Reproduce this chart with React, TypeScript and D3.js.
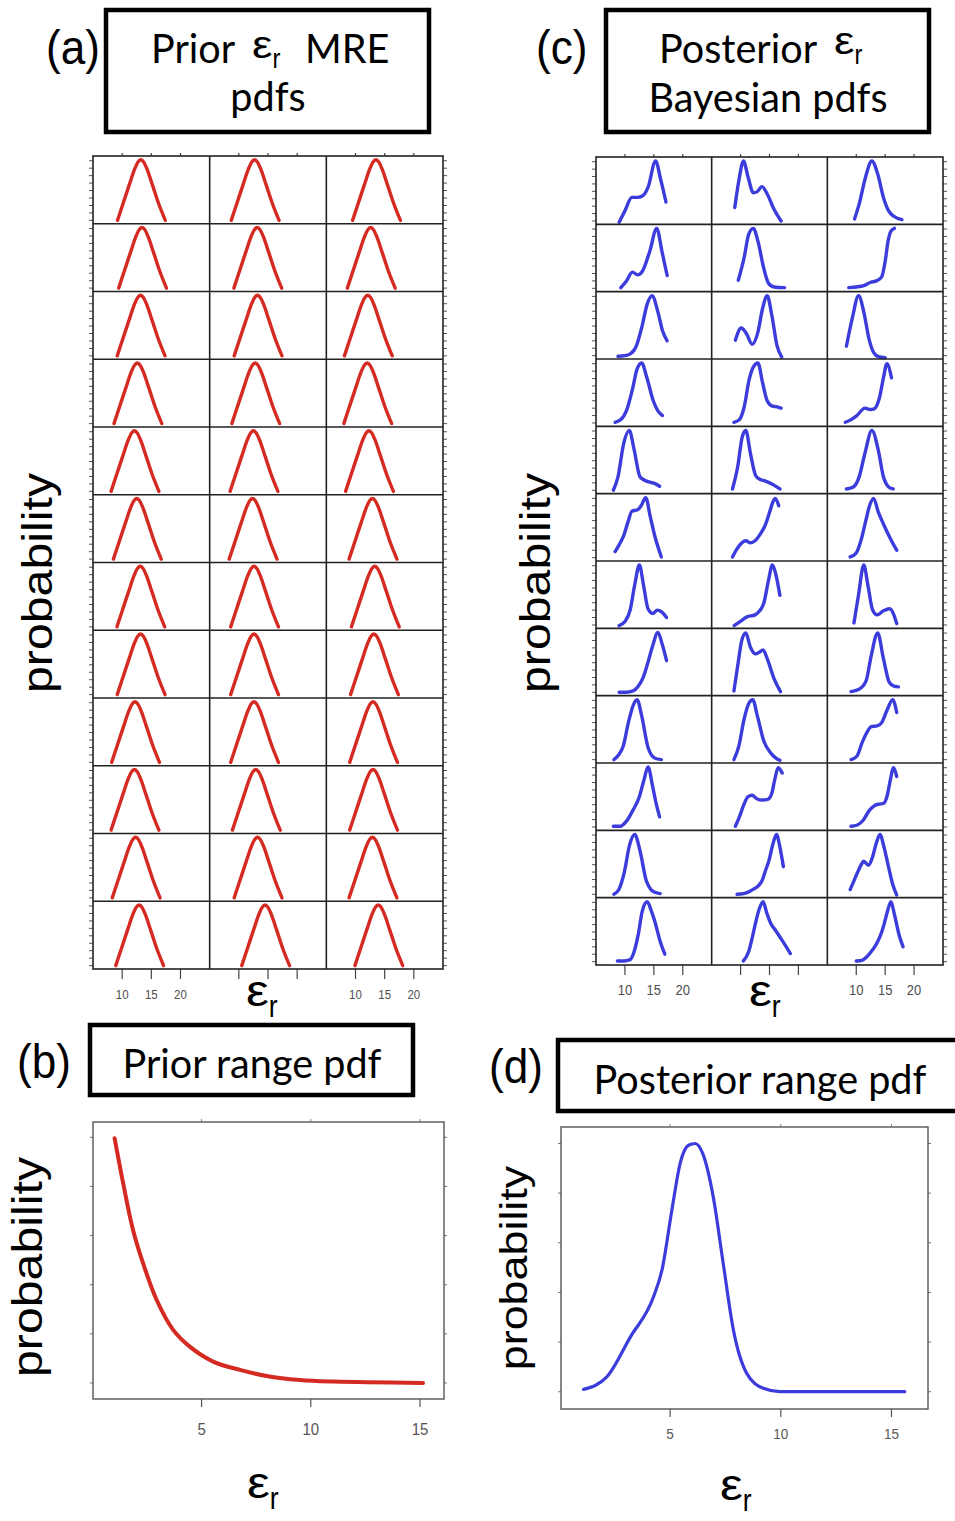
import React from 'react';
import * as d3 from 'd3';

type Pt = [number, number];

// shared x axis of the small pdf panels
const gridDomain = [5, 25];
const gridTicks = [10, 15, 20];
const rowTickFracs = [0.05, 0.16, 0.27, 0.38, 0.49, 0.6, 0.71, 0.82, 0.93];

// prior MRE pdfs: one shape (offset from the peak, height in the row) and a peak per cell
const priorShapeDx = [-4.0, -3.0, -2.0, -1.0, -0.5, 0, 0.5, 1.0, 2.0, 3.0, 4.2];
const priorShapeY = [0.05, 0.31, 0.57, 0.82, 0.91, 0.945, 0.91, 0.82, 0.57, 0.31, 0.05];
const priorPeaks = [
  [13.2, 12.7, 13.5],
  [13.4, 13.15, 12.6],
  [13.15, 13.2, 12.1],
  [12.6, 12.8, 12.0],
  [12.1, 12.5, 12.3],
  [12.5, 12.35, 12.9],
  [13.1, 12.6, 13.3],
  [13.15, 12.6, 13.15],
  [12.2, 12.6, 13.0],
  [12.1, 12.9, 13.0],
  [12.3, 13.2, 12.9],
  [12.9, 14.5, 13.9],
];

// posterior Bayesian pdfs, [eps_r, height in the row]
const posteriorCurves: Pt[][][] = [
  [
    [[9.0, 0.03], [10, 0.2], [11.2, 0.4], [12.2, 0.4], [13, 0.42], [14, 0.55], [15.3, 0.94], [16.2, 0.66], [17.1, 0.33]],
    [[9.0, 0.25], [9.7, 0.65], [10.5, 0.94], [11.3, 0.7], [12.2, 0.47], [12.8, 0.48], [13.7, 0.56], [14.6, 0.45], [15.8, 0.22], [17.0, 0.05]],
    [[9.7, 0.08], [10.5, 0.3], [11.6, 0.7], [12.7, 0.94], [13.7, 0.75], [14.7, 0.4], [15.6, 0.2], [16.5, 0.12], [17.9, 0.07]],
  ],
  [
    [[9.3, 0.06], [10.2, 0.15], [11.3, 0.29], [12.2, 0.25], [13.0, 0.3], [14.3, 0.6], [15.5, 0.94], [16.4, 0.6], [17.3, 0.24]],
    [[9.6, 0.17], [10.6, 0.5], [11.4, 0.85], [12.2, 0.94], [13.0, 0.75], [14.0, 0.35], [14.8, 0.13], [15.8, 0.07], [17.6, 0.06]],
    [[8.7, 0.06], [10, 0.07], [11.3, 0.09], [12.5, 0.14], [13.5, 0.16], [14.4, 0.22], [15.0, 0.45], [15.5, 0.75], [16.0, 0.9], [16.6, 0.94]],
  ],
  [
    [[8.8, 0.04], [10.0, 0.05], [11.0, 0.08], [12.0, 0.2], [13.0, 0.5], [13.8, 0.8], [14.7, 0.94], [15.7, 0.7], [16.5, 0.42], [17.3, 0.27]],
    [[9.1, 0.28], [10.1, 0.46], [11.0, 0.38], [12.0, 0.22], [13.0, 0.4], [13.8, 0.75], [14.6, 0.94], [15.4, 0.65], [16.3, 0.2], [17.1, 0.03]],
    [[8.3, 0.19], [9.3, 0.6], [10.4, 0.94], [11.3, 0.7], [12.2, 0.3], [13.0, 0.1], [14.0, 0.03], [15.0, 0.02]],
  ],
  [
    [[8.3, 0.06], [9.3, 0.1], [10.3, 0.24], [11.3, 0.55], [12.1, 0.85], [12.9, 0.94], [13.8, 0.72], [14.9, 0.38], [15.7, 0.23], [16.5, 0.16]],
    [[8.85, 0.06], [9.8, 0.1], [10.6, 0.28], [11.5, 0.7], [12.2, 0.88], [13.0, 0.94], [13.8, 0.65], [14.6, 0.38], [15.5, 0.3], [16.3, 0.29], [17.0, 0.27]],
    [[8.1, 0.06], [9.1, 0.1], [10.1, 0.16], [11.5, 0.27], [12.4, 0.25], [13.1, 0.26], [14.0, 0.42], [14.7, 0.72], [15.3, 0.93], [16.1, 0.72]],
  ],
  [
    [[8.0, 0.05], [8.8, 0.25], [9.8, 0.75], [10.75, 0.94], [11.6, 0.65], [12.6, 0.25], [13.4, 0.2], [14.3, 0.17], [15.2, 0.15], [16.0, 0.11]],
    [[8.6, 0.07], [9.5, 0.4], [10.3, 0.85], [10.9, 0.94], [11.7, 0.6], [12.6, 0.27], [13.4, 0.21], [14.2, 0.19], [15.5, 0.14], [16.8, 0.07]],
    [[8.3, 0.07], [9.5, 0.1], [10.5, 0.25], [11.5, 0.6], [12.7, 0.94], [13.8, 0.65], [14.7, 0.25], [15.6, 0.1], [16.4, 0.07]],
  ],
  [
    [[8.3, 0.14], [9.0, 0.24], [9.8, 0.38], [10.6, 0.6], [11.2, 0.74], [12.2, 0.76], [12.8, 0.82], [13.6, 0.94], [14.4, 0.65], [15.2, 0.36], [16.3, 0.06]],
    [[8.6, 0.06], [9.3, 0.17], [10.1, 0.26], [10.9, 0.3], [11.7, 0.27], [12.5, 0.3], [13.4, 0.4], [14.2, 0.52], [15.0, 0.72], [15.6, 0.88], [16.0, 0.93], [16.6, 0.82]],
    [[8.95, 0.06], [10.0, 0.12], [10.8, 0.3], [11.6, 0.58], [12.3, 0.82], [13.0, 0.93], [13.8, 0.73], [14.7, 0.55], [15.8, 0.35], [17.0, 0.16]],
  ],
  [
    [[9.0, 0.04], [10.0, 0.1], [10.9, 0.27], [11.7, 0.65], [12.5, 0.94], [13.2, 0.65], [14.0, 0.29], [14.8, 0.22], [15.6, 0.27], [16.4, 0.24], [17.2, 0.16]],
    [[8.9, 0.04], [9.9, 0.1], [11.1, 0.17], [12.5, 0.2], [13.3, 0.26], [14.0, 0.37], [14.8, 0.7], [15.5, 0.94], [16.1, 0.8], [16.8, 0.49]],
    [[9.6, 0.08], [10.4, 0.5], [11.3, 0.94], [12.0, 0.65], [12.8, 0.28], [13.6, 0.2], [14.7, 0.26], [15.8, 0.29], [16.5, 0.2], [17.0, 0.07]],
  ],
  [
    [[9.0, 0.05], [10.2, 0.05], [11.4, 0.07], [12.3, 0.14], [13.2, 0.28], [14.0, 0.5], [14.8, 0.74], [15.7, 0.94], [16.4, 0.78], [17.2, 0.52]],
    [[8.85, 0.07], [9.6, 0.5], [10.2, 0.82], [10.9, 0.93], [11.7, 0.72], [12.6, 0.62], [13.3, 0.65], [13.9, 0.68], [14.6, 0.55], [15.8, 0.25], [16.9, 0.06]],
    [[9.1, 0.06], [10.4, 0.09], [11.7, 0.22], [12.6, 0.6], [13.7, 0.93], [14.7, 0.55], [15.7, 0.2], [16.5, 0.14], [17.3, 0.13]],
  ],
  [
    [[8.1, 0.05], [8.9, 0.12], [9.7, 0.25], [10.6, 0.6], [11.4, 0.85], [12.1, 0.94], [12.9, 0.7], [14.0, 0.23], [15.2, 0.07], [16.3, 0.05]],
    [[8.85, 0.05], [9.7, 0.25], [10.6, 0.65], [11.4, 0.88], [12.1, 0.94], [12.9, 0.7], [14.0, 0.33], [15.2, 0.15], [16.0, 0.08], [16.8, 0.04]],
    [[9.1, 0.05], [10.1, 0.1], [11.0, 0.3], [11.7, 0.43], [12.6, 0.54], [13.6, 0.55], [14.4, 0.6], [15.3, 0.78], [16.3, 0.94], [17.0, 0.75]],
  ],
  [
    [[8.0, 0.06], [9.2, 0.06], [10.3, 0.14], [11.4, 0.3], [12.5, 0.5], [13.3, 0.75], [14.0, 0.94], [14.8, 0.65], [15.4, 0.4], [16.0, 0.2]],
    [[9.1, 0.06], [9.8, 0.2], [10.6, 0.39], [11.3, 0.5], [12.0, 0.52], [12.8, 0.47], [13.8, 0.45], [14.7, 0.46], [15.4, 0.55], [15.9, 0.75], [16.5, 0.93], [17.2, 0.85]],
    [[9.1, 0.06], [10.2, 0.08], [11.2, 0.15], [12.3, 0.3], [13.2, 0.37], [14.0, 0.39], [14.7, 0.4], [15.3, 0.5], [15.9, 0.75], [16.4, 0.93], [17.0, 0.8]],
  ],
  [
    [[8.1, 0.05], [9.0, 0.13], [9.9, 0.38], [10.8, 0.78], [11.7, 0.94], [12.6, 0.7], [13.7, 0.25], [14.5, 0.12], [15.2, 0.08], [16.1, 0.06]],
    [[9.4, 0.05], [10.5, 0.06], [11.5, 0.09], [12.3, 0.13], [13.1, 0.18], [13.7, 0.25], [14.3, 0.4], [14.9, 0.55], [15.6, 0.8], [16.2, 0.94], [16.8, 0.75], [17.4, 0.46]],
    [[8.95, 0.12], [9.6, 0.25], [10.2, 0.37], [10.8, 0.48], [11.3, 0.54], [12.1, 0.48], [12.8, 0.6], [13.5, 0.82], [14.1, 0.94], [14.8, 0.75], [15.6, 0.45], [16.3, 0.2], [17.0, 0.04]],
  ],
  [
    [[8.7, 0.06], [9.8, 0.06], [10.9, 0.08], [11.6, 0.2], [12.3, 0.45], [13.0, 0.8], [13.85, 0.94], [14.5, 0.82], [15.2, 0.64], [16.0, 0.38], [16.9, 0.16]],
    [[10.5, 0.06], [11.4, 0.2], [12.0, 0.4], [12.6, 0.63], [13.3, 0.85], [13.9, 0.94], [14.5, 0.78], [15.2, 0.62], [16.0, 0.52], [17.3, 0.35], [18.6, 0.17]],
    [[10.0, 0.06], [11.0, 0.07], [11.8, 0.12], [12.6, 0.2], [13.4, 0.3], [14.1, 0.42], [14.8, 0.6], [15.4, 0.8], [16.0, 0.94], [16.6, 0.75], [17.4, 0.45], [18.1, 0.27]],
  ],
];

// range pdfs
const rangeTicks = [5, 10, 15];
const probTicks = [0, 0.05, 0.1, 0.15, 0.2, 0.25];
const priorRangeEps = [1.02, 1.44, 1.86, 2.32, 2.94, 3.7, 4.46, 5.53, 6.76, 7.98, 9.5, 11.04, 15.14];
const priorRangeProb = [0.249, 0.2, 0.156, 0.122, 0.0847, 0.054, 0.037, 0.0218, 0.0133, 0.0071, 0.003, 0.0014, 0];
const postRangeEps = [1.09, 2.14, 3.2, 4.25, 4.63, 5.08, 5.45, 5.83, 6.13, 6.47, 6.95, 7.4, 7.86, 8.46, 9.21, 9.96, 15.6];
const postRangeProb = [0.0024, 0.015, 0.055, 0.0956, 0.1224, 0.183, 0.2298, 0.2482, 0.25, 0.24, 0.196, 0.129, 0.062, 0.0185, 0.0034, 0, 0];

const RED = '#d42a22';
const BLUE = '#3c3cdc';
const SANS = "'Liberation Sans', Arial, sans-serif";
const TITLE = "Lato, 'Open Sans', sans-serif";
const SY = 1.15; // the figure is stretched vertically

const priorCurves: Pt[][][] = priorPeaks.map(row =>
  row.map(peak => priorShapeDx.map((dx, i) => [peak + dx, priorShapeY[i]] as Pt))
);

function T({ x, y, size, children, anchor = 'start', font = SANS, fill = '#000', sx = 1 }: any) {
  return (
    <text transform={`translate(${x},${y}) scale(${sx},${SY})`} fontSize={size}
      fontFamily={font} textAnchor={anchor} fill={fill}>{children}</text>
  );
}

function EpsR({ x, y, size }: any) {
  return (
    <g>
      <T x={x} y={y} size={size} sx={1.35}>ε</T>
      <T x={x + size * 0.6} y={y + size * 0.28} size={size * 0.7}>r</T>
    </g>
  );
}

function VLabel({ x, y, size }: any) {
  return (
    <g transform={`translate(${x},${y}) scale(1,${SY})`}>
      <text transform="rotate(-90)" fontSize={size} fontFamily={SANS} textAnchor="middle">probability</text>
    </g>
  );
}

function PdfGrid({ left, right, top, bottom, curves, color, labelSize }: any) {
  const colW = (right - left) / 3;
  const rowH = (bottom - top) / 12;
  const xs = [0, 1, 2].map(c =>
    d3.scaleLinear().domain(gridDomain).range([left + c * colW, left + (c + 1) * colW]));
  const ys = d3.range(12).map(r =>
    d3.scaleLinear().domain([0, 1]).range([top + (r + 1) * rowH, top + r * rowH]));
  return (
    <g>
      {ys.map((y, r) => rowTickFracs.map((f, i) => (
        <g key={`t${r}-${i}`} stroke="#555" strokeWidth={1}>
          <line x1={left - 4} x2={left} y1={y(f)} y2={y(f)} />
          <line x1={right} x2={right + 4} y1={y(f)} y2={y(f)} />
        </g>
      )))}
      {xs.map((x, c) => gridTicks.map(t => (
        <g key={`x${c}-${t}`} stroke="#444" strokeWidth={1.2}>
          <line x1={x(t)} x2={x(t)} y1={bottom} y2={bottom + 10} />
          <line x1={x(t)} x2={x(t)} y1={top} y2={top - 3} />
        </g>
      )))}
      {[0, 2].map(c => gridTicks.map(t => (
        <T key={`l${c}-${t}`} x={xs[c](t)} y={bottom + 30} size={labelSize} anchor="middle" fill="#4d4d4d">{t}</T>
      )))}
      {curves.map((row: Pt[][], r: number) => row.map((pts: Pt[], c: number) => {
        const line = d3.line<Pt>().x(d => xs[c](d[0])).y(d => ys[r](d[1])).curve(d3.curveMonotoneX);
        return <path key={`c${r}-${c}`} d={line(pts) || ''} fill="none" stroke={color}
          strokeWidth={3.4} strokeLinecap="round" strokeLinejoin="round" />;
      }))}
      <g stroke="#222" strokeWidth={1.6} fill="none">
        {d3.range(1, 12).map(r => (
          <line key={`h${r}`} x1={left} x2={right} y1={top + r * rowH} y2={top + r * rowH} />
        ))}
        {[1, 2].map(c => (
          <line key={`v${c}`} x1={left + c * colW} x2={left + c * colW} y1={top} y2={bottom} />
        ))}
        <rect x={left} y={top} width={right - left} height={bottom - top} />
      </g>
    </g>
  );
}

function RangePlot({ left, right, top, bottom, xDomain, yDomain, eps, prob, color, width, labelSize, labelGap, curve }: any) {
  const x = d3.scaleLinear().domain(xDomain).range([left, right]);
  const y = d3.scaleLinear().domain(yDomain).range([bottom, top]);
  const pts: Pt[] = eps.map((e: number, i: number) => [e, prob[i]]);
  const line = d3.line<Pt>().x(d => x(d[0])).y(d => y(d[1])).curve(curve);
  return (
    <g>
      {rangeTicks.map(t => (
        <g key={t}>
          <line x1={x(t)} x2={x(t)} y1={bottom} y2={bottom + 8} stroke="#555" strokeWidth={1.2} />
          <line x1={x(t)} x2={x(t)} y1={top} y2={top - 3} stroke="#888" strokeWidth={1} />
          <T x={x(t)} y={bottom + labelGap} size={labelSize} anchor="middle" fill="#555">{t}</T>
        </g>
      ))}
      {probTicks.map(t => (
        <g key={t} stroke="#777" strokeWidth={1}>
          <line x1={left - 3} x2={left} y1={y(t)} y2={y(t)} />
          <line x1={right} x2={right + 3} y1={y(t)} y2={y(t)} />
        </g>
      ))}
      <path d={line(pts) || ''} fill="none" stroke={color} strokeWidth={width} strokeLinecap="round" />
      <rect x={left} y={top} width={right - left} height={bottom - top} fill="none" stroke="#555" strokeWidth={1.4} />
    </g>
  );
}

export default function App() {
  return (
    <svg width={955} height={1521} style={{ position: 'absolute', left: 0, top: 0, background: '#fff' }}>
      {/* (a) prior MRE pdfs */}
      <T x={46} y={64} size={42} sx={1.05}>(a)</T>
      <rect x={106} y={10} width={323} height={122} fill="none" stroke="#000" strokeWidth={4.5} />
      <T x={151} y={63} size={36} font={TITLE} sx={1.1}>Prior</T>
      <EpsR x={252} y={58} size={34} />
      <T x={305} y={63} size={36} font={TITLE} sx={1.1}>MRE</T>
      <T x={268} y={111} size={36} font={TITLE} anchor="middle" sx={1.1}>pdfs</T>
      <VLabel x={52} y={583} size={42} />
      <PdfGrid left={93} right={443} top={156} bottom={969} curves={priorCurves} color={RED} labelSize={11.5} />
      <EpsR x={246} y={1006} size={38} />

      {/* (c) posterior Bayesian pdfs */}
      <T x={536} y={64} size={42} sx={1.05}>(c)</T>
      <rect x={606} y={10} width={323} height={122} fill="none" stroke="#000" strokeWidth={4.5} />
      <T x={659} y={63} size={36} font={TITLE} sx={1.1}>Posterior</T>
      <EpsR x={834} y={54} size={34} />
      <T x={768} y={112} size={36} font={TITLE} anchor="middle" sx={1.1}>Bayesian pdfs</T>
      <VLabel x={550} y={583} size={42} />
      <PdfGrid left={596} right={943} top={157} bottom={965} curves={posteriorCurves} color={BLUE} labelSize={13} />
      <EpsR x={749} y={1006} size={38} />

      {/* (b) prior range pdf */}
      <T x={17} y={1078} size={42} sx={1.05}>(b)</T>
      <rect x={90} y={1025} width={323} height={70} fill="none" stroke="#000" strokeWidth={4.5} />
      <T x={252} y={1078} size={36} font={TITLE} anchor="middle" sx={1.1}>Prior range pdf</T>
      <VLabel x={42} y={1267} size={42} />
      <RangePlot left={93} right={444} top={1122} bottom={1399} xDomain={[0.03, 16.1]} yDomain={[-0.0163, 0.2656]}
        eps={priorRangeEps} prob={priorRangeProb} color={RED} width={4} labelSize={15} labelGap={36}
        curve={d3.curveCatmullRom.alpha(0.5)} />
      <EpsR x={247} y={1498} size={38} />

      {/* (d) posterior range pdf */}
      <T x={489} y={1083} size={42} sx={1.05}>(d)</T>
      <rect x={558} y={1040} width={420} height={71} fill="none" stroke="#000" strokeWidth={4.5} />
      <T x={760} y={1094} size={36} font={TITLE} anchor="middle" sx={1.1}>Posterior range pdf</T>
      <VLabel x={527} y={1268} size={39} />
      <RangePlot left={561} right={928} top={1127} bottom={1409} xDomain={[0.07, 16.65]} yDomain={[-0.0174, 0.2666]}
        eps={postRangeEps} prob={postRangeProb} color={BLUE} width={3.2} labelSize={13.5} labelGap={30}
        curve={d3.curveMonotoneX} />
      <EpsR x={720} y={1500} size={38} />
    </svg>
  );
}
